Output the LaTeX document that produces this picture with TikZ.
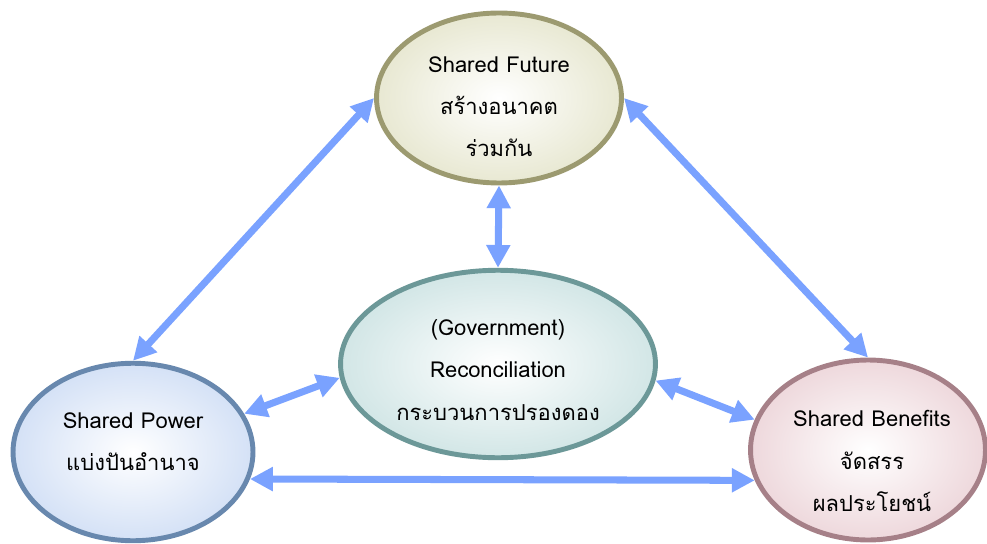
\documentclass[tikz,border=0pt]{standalone}
\usepackage{fontspec}
\setmainfont{Loma}[Script=Thai]
\usepackage{tikz}
\usetikzlibrary{shapes.geometric, arrows.meta}
\usepackage{xcolor}
% Colori
\definecolor{frecciablu}{RGB}{122,162,255}
\definecolor{bordoFuture}{RGB}{156,154,112}
\definecolor{fondoFuture}{RGB}{232,232,210}
\definecolor{bordoRecon}{RGB}{108,152,152}
\definecolor{fondoRecon}{RGB}{210,230,230}
\definecolor{bordoPower}{RGB}{104,136,174}
\definecolor{fondoPower}{RGB}{212,225,246}
\definecolor{bordoBenefit}{RGB}{166,128,136}
\definecolor{fondoBenefit}{RGB}{238,216,220}

\begin{document}
\begin{tikzpicture}[x = 0.02cm, y = -0.02cm,
    bolla/.style = {ellipse, line width = 2.8pt, inner sep = 0pt},
    testo/.style = {align = center, inner sep = 0pt, font = \fontsize{12.5}{24}\selectfont},
    freccia/.style = {draw = frecciablu, line width = 4pt,
        {Triangle[length = 13pt, width = 13pt]}-{Triangle[length = 13pt, width = 13pt]}}]
    \useasboundingbox (0,0) rectangle (987,544);
    % Ellissi
    \node[bolla, draw = bordoFuture, inner color = white, outer color = fondoFuture,
        minimum width = 4.9cm, minimum height = 3.4cm] (future) at (499,98) {};
    \node[bolla, draw = bordoRecon, inner color = white, outer color = fondoRecon,
        minimum width = 6.3cm, minimum height = 3.75cm] (recon) at (498,364) {};
    \node[bolla, draw = bordoPower, inner color = white, outer color = fondoPower,
        minimum width = 4.8cm, minimum height = 3.55cm] (power) at (133,452) {};
    \node[bolla, draw = bordoBenefit, inner color = white, outer color = fondoBenefit,
        minimum width = 4.7cm, minimum height = 3.6cm] (benefits) at (868,450) {};
    % Testi
    \node[testo] (futureTesto) at (499,107) {Shared Future\\สร้างอนาคต\\ร่วมกัน};
    \node[testo] (reconTesto) at (498,370) {(Government)\\Reconciliation\\กระบวนการปรองดอง};
    \node[testo] (powerTesto) at (133,442) {Shared Power\\แบ่งปันอำนาจ};
    \node[testo] (benefitsTesto) at (872,461) {Shared Benefits\\จัดสรร\\ผลประโยชน์};
    % Frecce
    \draw[freccia] (power.north) -- (future.west);
    \draw[freccia] (future.east) -- (benefits.north);
    \draw[freccia] (future.south) -- (recon.north);
    \draw[freccia] (power.19) -- (recon.185);
    \draw[freccia] (recon.-6) -- (benefits.165);
    \draw[freccia] (power.-13) -- (benefits.195);
\end{tikzpicture}
\end{document}
